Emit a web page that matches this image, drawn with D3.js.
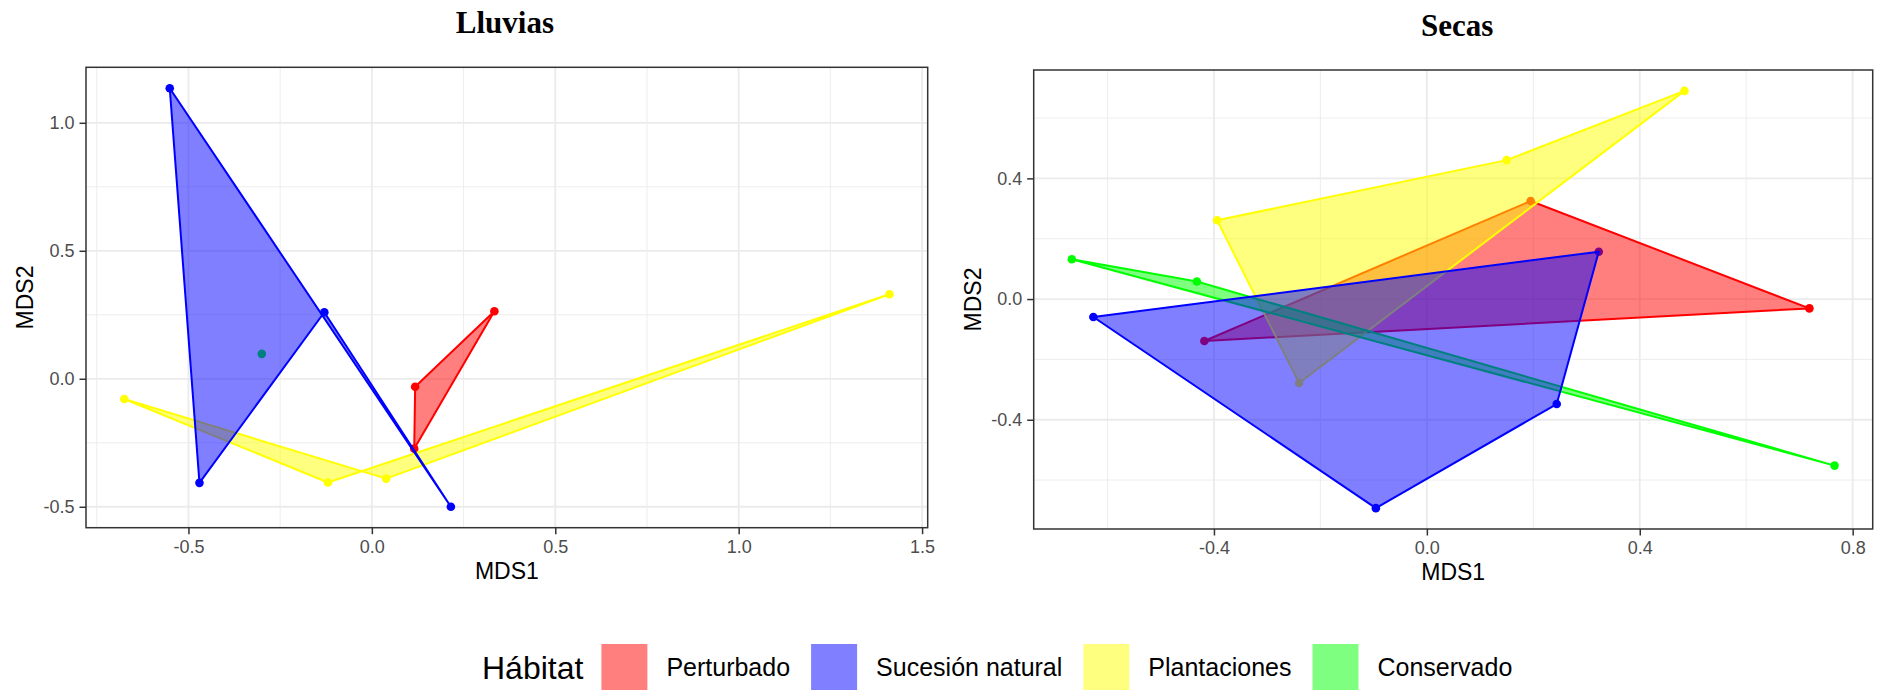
<!DOCTYPE html>
<html>
<head>
<meta charset="utf-8">
<script src="https://cdn.jsdelivr.net/npm/d3@7"></script>
<style>
  body { margin: 0; background: #ffffff; }
  text { font-family: "Liberation Sans", Arial, sans-serif; }
</style>
</head>
<body>
<svg id="chart" width="1885" height="690"></svg>
<script>
// ---------------- DATA ----------------
const habitats = ["Perturbado", "Sucesión natural", "Plantaciones", "Conservado"];
const habitatColors = ["#FF0000", "#0000FF", "#FFFF00", "#00FF00"];
// polygons drawn in this order (index into habitats)
const drawOrder = [0, 2, 3, 1];

// Lluvias (rainy season) NMDS scores
const lluviasPerturbadoX   = [0.118, 0.334, 0.1155];
const lluviasPerturbadoY   = [-0.031, 0.264, -0.273];
const lluviasSucesionX     = [-0.551, 0.2154, -0.1296, -0.470];
const lluviasSucesionY     = [1.135, -0.500, 0.260, -0.4065];
const lluviasPlantacionesX = [-0.675, -0.1196, 1.411, 0.039];
const lluviasPlantacionesY = [-0.079, -0.405, 0.330, -0.390];
const lluviasConservadoX   = [-0.300];
const lluviasConservadoY   = [0.0974];

// Secas (dry season) NMDS scores
const secasPerturbadoX   = [0.195, 0.7187, -0.418];
const secasPerturbadoY   = [0.325, -0.031, -0.139];
const secasSucesionX     = [-0.6266, 0.323, 0.244, -0.0958];
const secasSucesionY     = [-0.0595, 0.157, -0.348, -0.693];
const secasPlantacionesX = [-0.394, 0.150, 0.484, -0.240];
const secasPlantacionesY = [0.261, 0.4605, 0.690, -0.278];
const secasConservadoX   = [-0.667, -0.432, 0.766];
const secasConservadoY   = [0.132, 0.058, -0.552];

// Ticks
const lluviasXTicks = [-0.5, 0, 0.5, 1.0, 1.5];
const lluviasXTickLabels = ["-0.5", "0.0", "0.5", "1.0", "1.5"];
const lluviasXMinor = [-0.75, -0.25, 0.25, 0.75, 1.25];
const lluviasYTicks = [-0.5, 0, 0.5, 1.0];
const lluviasYTickLabels = ["-0.5", "0.0", "0.5", "1.0"];
const lluviasYMinor = [-0.25, 0.25, 0.75];

const secasXTicks = [-0.4, 0, 0.4, 0.8];
const secasXTickLabels = ["-0.4", "0.0", "0.4", "0.8"];
const secasXMinor = [-0.6, -0.2, 0.2, 0.6];
const secasYTicks = [-0.4, 0, 0.4];
const secasYTickLabels = ["-0.4", "0.0", "0.4"];
const secasYMinor = [-0.6, -0.2, 0.2, 0.6];

// ---------------- DRAW ----------------
const svg = d3.select("#chart");
svg.append("rect").attr("width", 1885).attr("height", 690).attr("fill", "#ffffff");

function expand(arr) {
  const [a, b] = d3.extent(arr);
  const e = (b - a) * 0.05;
  return [a - e, b + e];
}

function drawPanel(p) {
  const allX = p.groups.flatMap(g => g.x);
  const allY = p.groups.flatMap(g => g.y);
  const x = d3.scaleLinear().domain(expand(allX)).range([p.left, p.right]);
  const y = d3.scaleLinear().domain(expand(allY)).range([p.bottom, p.top]);
  const g = svg.append("g");

  // minor grid
  g.selectAll(".minx").data(p.xMinor).join("line")
    .attr("x1", d => x(d)).attr("x2", d => x(d))
    .attr("y1", p.top).attr("y2", p.bottom)
    .attr("stroke", "#EBEBEB").attr("stroke-width", 0.9);
  g.selectAll(".miny").data(p.yMinor).join("line")
    .attr("y1", d => y(d)).attr("y2", d => y(d))
    .attr("x1", p.left).attr("x2", p.right)
    .attr("stroke", "#EBEBEB").attr("stroke-width", 0.9);
  // major grid
  g.selectAll(".majx").data(p.xTicks).join("line")
    .attr("x1", d => x(d)).attr("x2", d => x(d))
    .attr("y1", p.top).attr("y2", p.bottom)
    .attr("stroke", "#EBEBEB").attr("stroke-width", 1.8);
  g.selectAll(".majy").data(p.yTicks).join("line")
    .attr("y1", d => y(d)).attr("y2", d => y(d))
    .attr("x1", p.left).attr("x2", p.right)
    .attr("stroke", "#EBEBEB").attr("stroke-width", 1.8);

  // points first
  p.groups.forEach(grp => {
    const pts = grp.x.map((v, i) => [v, grp.y[i]]);
    g.selectAll(null).data(pts).join("circle")
      .attr("cx", d => x(d[0])).attr("cy", d => y(d[1]))
      .attr("r", 4.3).attr("fill", habitatColors[grp.h]);
  });

  // polygons
  drawOrder.forEach(h => {
    const grp = p.groups.find(gg => gg.h === h);
    if (!grp || grp.x.length < 3) return;
    const pts = grp.x.map((v, i) => [x(v), y(grp.y[i])]);
    g.append("path")
      .attr("d", "M" + pts.map(d => d.join(",")).join("L") + "Z")
      .attr("fill", habitatColors[h]).attr("fill-opacity", 0.5)
      .attr("stroke", habitatColors[h]).attr("stroke-width", 2)
      .attr("stroke-linejoin", "round");
  });

  // border
  g.append("rect")
    .attr("x", p.left).attr("y", p.top)
    .attr("width", p.right - p.left).attr("height", p.bottom - p.top)
    .attr("fill", "none").attr("stroke", "#333333").attr("stroke-width", 1.5);

  // axes
  const xAxis = g.append("g").attr("transform", `translate(0,${p.bottom})`)
    .call(d3.axisBottom(x).tickValues(p.xTicks)
      .tickFormat((d, i) => p.xTickLabels[i]).tickSizeOuter(0).tickSize(6.5).tickPadding(6));
  const yAxis = g.append("g").attr("transform", `translate(${p.left},0)`)
    .call(d3.axisLeft(y).tickValues(p.yTicks)
      .tickFormat((d, i) => p.yTickLabels[i]).tickSizeOuter(0).tickSize(6.5).tickPadding(5));
  [xAxis, yAxis].forEach(a => {
    a.select(".domain").remove();
    a.selectAll(".tick line").attr("stroke", "#333333").attr("stroke-width", 1.5);
    a.selectAll(".tick text").attr("fill", "#4D4D4D")
      .style("font-size", "18px").style("font-family", "'Liberation Sans', Arial, sans-serif");
  });

  // titles
  const cx = (p.left + p.right) / 2;
  g.append("text").attr("x", cx + p.titleDx).attr("y", p.titleY)
    .attr("text-anchor", "middle")
    .style("font-family", "'Liberation Serif', 'Times New Roman', serif")
    .style("font-weight", "bold").style("font-size", "31px")
    .attr("fill", "#000").text(p.title);
  g.append("text").attr("x", cx).attr("y", p.bottom + 51)
    .attr("text-anchor", "middle").style("font-size", "23px")
    .attr("fill", "#000").text("MDS1");
  g.append("text")
    .attr("transform", `translate(${p.left - 53},${(p.top + p.bottom) / 2}) rotate(-90)`)
    .attr("text-anchor", "middle").style("font-size", "23px")
    .attr("fill", "#000").text("MDS2");
}

drawPanel({
  title: "Lluvias", titleY: 33, titleDx: -2,
  left: 86, right: 927.7, top: 67.3, bottom: 527.7,
  groups: [
    { h: 0, x: lluviasPerturbadoX, y: lluviasPerturbadoY },
    { h: 1, x: lluviasSucesionX, y: lluviasSucesionY },
    { h: 2, x: lluviasPlantacionesX, y: lluviasPlantacionesY },
    { h: 3, x: lluviasConservadoX, y: lluviasConservadoY }
  ],
  xTicks: lluviasXTicks, xTickLabels: lluviasXTickLabels, xMinor: lluviasXMinor,
  yTicks: lluviasYTicks, yTickLabels: lluviasYTickLabels, yMinor: lluviasYMinor
});

drawPanel({
  title: "Secas", titleY: 36, titleDx: 4,
  left: 1033.7, right: 1872.7, top: 70, bottom: 529,
  groups: [
    { h: 0, x: secasPerturbadoX, y: secasPerturbadoY },
    { h: 1, x: secasSucesionX, y: secasSucesionY },
    { h: 2, x: secasPlantacionesX, y: secasPlantacionesY },
    { h: 3, x: secasConservadoX, y: secasConservadoY }
  ],
  xTicks: secasXTicks, xTickLabels: secasXTickLabels, xMinor: secasXMinor,
  yTicks: secasYTicks, yTickLabels: secasYTickLabels, yMinor: secasYMinor
});

// ---------------- LEGEND ----------------
const legend = svg.append("g");
const legendTitle = legend.append("text").attr("x", 482).attr("y", 678.5)
  .style("font-size", "32px").attr("fill", "#000").text("Hábitat");
let lx = 482 + legendTitle.node().getComputedTextLength() + 18;
habitats.forEach((name, i) => {
  legend.append("rect").attr("x", lx).attr("y", 644).attr("width", 46).attr("height", 46)
    .attr("fill", habitatColors[i]).attr("fill-opacity", 0.5);
  lx += 46 + 19;
  const t = legend.append("text").attr("x", lx).attr("y", 676)
    .style("font-size", "25px").attr("fill", "#000").text(name);
  lx += t.node().getComputedTextLength() + 21;
});
</script>
</body>
</html>
